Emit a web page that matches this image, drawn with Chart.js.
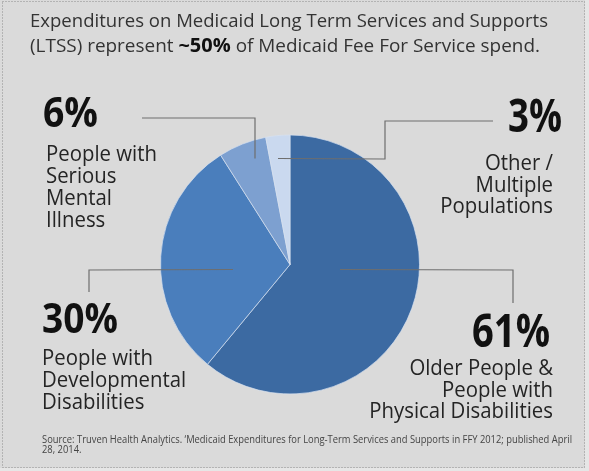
<!DOCTYPE html>
<html>
<head>
<meta charset="utf-8">
<script src="https://cdn.jsdelivr.net/npm/chart.js@4.4.1/dist/chart.umd.min.js"></script>
<style>
  html, body { margin: 0; padding: 0; background: #e6e6e6; }
  canvas { display: block; }
</style>
</head>
<body>
<canvas id="ltssPie" width="589" height="471"></canvas>
<script>
'use strict';

// Chart data
const categories = [
  'Older People & People with Physical Disabilities',
  'People with Developmental Disabilities',
  'People with Serious Mental Illness',
  'Other / Multiple Populations',
];
const shares = [61, 30, 6, 3];
const labelLines = [
  ['Older People &', 'People with', 'Physical Disabilities'],
  ['People with', 'Developmental', 'Disabilities'],
  ['People with', 'Serious', 'Mental', 'Illness'],
  ['Other /', 'Multiple', 'Populations'],
];
const sliceColors = ['#3c6aa2', '#4a7ebc', '#7da0d0', '#cad9ef'];
const titleLine1 = 'Expenditures on Medicaid Long Term Services and Supports';
const titleLine2 = ['(LTSS) represent ', '~50%', ' of Medicaid Fee For Service spend.'];
const sourceLines = [
  'Source: Truven Health Analytics. \u2018Medicaid Expenditures for Long-Term Services and Supports in FFY 2012; published April',
  '28, 2014.',
];

const FONT = '"Open Sans", "Noto Sans", sans-serif';

// Where each annotation sits (same order as shares)
// start = offset from pie centre, path = elbow points, pct/lines = text anchors
const annoLayout = [
  { start: [50, 5], path: [[513, 270], [513, 303]],
    pct: { x: 550, y: 347, size: 47, w: 78 }, align: 'right', tx: 553, ty: [375, 397, 418] },
  { start: [-57, 5], path: [[89, 270], [89, 292]],
    pct: { x: 42, y: 333, size: 42, w: 76 }, align: 'left', tx: 42, ty: [365, 387, 409] },
  { start: [-35, -106], path: [[255, 118], [142, 118]],
    pct: { x: 43, y: 127, size: 41, w: 55 }, align: 'left', tx: 46, ty: [161, 183, 205, 227] },
  { start: [-12, -106], path: [[385, 159], [385, 121], [493, 121]],
    pct: { x: 562, y: 132, size: 46, w: 54 }, align: 'right', tx: 553, ty: [170, 192, 213] },
];

// Draw text squeezed/stretched horizontally to a given width
function fitText(ctx, text, x, y, align, width) {
  const w = ctx.measureText(text).width;
  const sx = width ? width / w : 1;
  ctx.save();
  ctx.translate(x, y);
  ctx.scale(sx, 1);
  ctx.textAlign = align;
  ctx.fillText(text, 0, 0);
  ctx.restore();
}

const backdrop = {
  id: 'backdrop',
  beforeDraw(chart) {
    const { ctx } = chart;
    ctx.save();
    ctx.fillStyle = '#dadada';
    ctx.fillRect(0, 0, 585, 468);
    ctx.strokeStyle = '#8c8c8c';
    ctx.lineWidth = 1;
    ctx.setLineDash([1, 2]);
    ctx.strokeRect(2.5, 1.5, 582, 466);
    ctx.restore();
  },
};

const annotations = {
  id: 'annotations',
  afterDraw(chart) {
    const { ctx } = chart;
    const arcs = chart.getDatasetMeta(0).data;
    const cx = arcs[0].x;
    const cy = arcs[0].y;
    ctx.save();
    ctx.textBaseline = 'alphabetic';

    // title
    ctx.fillStyle = '#333333';
    ctx.font = '18px ' + FONT;
    fitText(ctx, titleLine1, 30, 27, 'left', 518);
    const fonts = ['18px ' + FONT, 'bold 19px ' + FONT, '18px ' + FONT];
    const segW = titleLine2.map((s, i) => { ctx.font = fonts[i]; return ctx.measureText(s).width; });
    const sx2 = 510 / segW.reduce((a, b) => a + b, 0);
    let x = 30;
    titleLine2.forEach((s, i) => {
      ctx.font = fonts[i];
      ctx.fillStyle = i === 1 ? '#111111' : '#333333';
      fitText(ctx, s, x, 52, 'left', segW[i] * sx2);
      x += segW[i] * sx2;
    });

    // leader lines
    ctx.strokeStyle = '#6e6e6e';
    ctx.lineWidth = 1.2;
    annoLayout.forEach(a => {
      ctx.beginPath();
      ctx.moveTo(cx + a.start[0], cy + a.start[1]);
      a.path.forEach(p => ctx.lineTo(p[0], p[1]));
      ctx.stroke();
    });

    // percentages and category labels
    annoLayout.forEach((a, i) => {
      ctx.fillStyle = '#111111';
      ctx.font = 'bold ' + a.pct.size + 'px ' + FONT;
      fitText(ctx, shares[i] + '%', a.pct.x, a.pct.y, a.align, a.pct.w);
      ctx.fillStyle = '#242424';
      ctx.font = '21px ' + FONT;
      labelLines[i].forEach((line, j) => {
        const w = ctx.measureText(line).width * 0.97;
        fitText(ctx, line, a.tx, a.ty[j], a.align, w);
      });
    });

    // source note
    ctx.fillStyle = '#444444';
    ctx.font = '10px ' + FONT;
    const srcSx = 530 / ctx.measureText(sourceLines[0]).width;
    sourceLines.forEach((line, j) => {
      fitText(ctx, line, 42, 443 + j * 10, 'left', ctx.measureText(line).width * srcSx);
    });
    ctx.restore();
  },
};

const ctx = document.getElementById('ltssPie').getContext('2d');
new Chart(ctx, {
  type: 'pie',
  data: {
    labels: categories,
    datasets: [{
      data: shares,
      backgroundColor: sliceColors,
      borderColor: 'rgba(215, 225, 240, 0.7)',
      borderWidth: 1,
    }],
  },
  options: {
    responsive: false,
    animation: false,
    layout: { padding: { left: 160, right: 169, top: 134, bottom: 76 } },
    plugins: {
      legend: { display: false },
      tooltip: { enabled: false },
      title: { display: false },
    },
  },
  plugins: [backdrop, annotations],
});
</script>
</body>
</html>
